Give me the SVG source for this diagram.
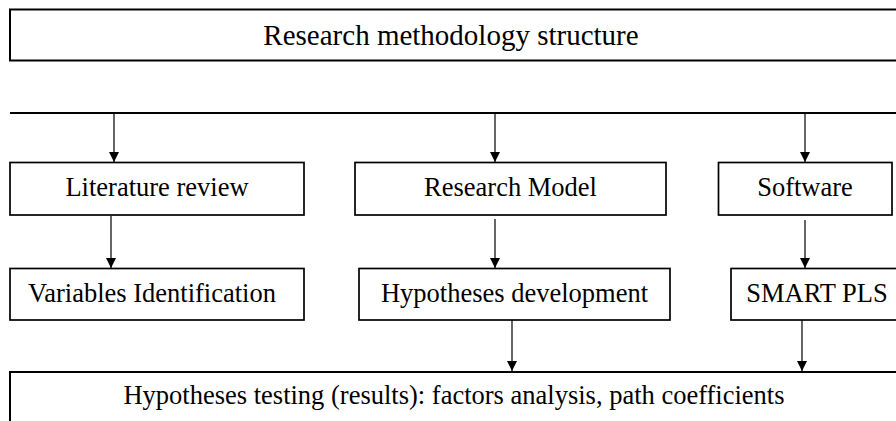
<svg xmlns="http://www.w3.org/2000/svg" width="896" height="421" viewBox="0 0 896 421">
<style>
.box{fill:#fff;stroke:#000;stroke-width:1.7}
.t{font-family:"Liberation Serif","Times New Roman",serif;font-size:26.5px;fill:#000;text-anchor:middle}
.title{font-size:29px}
.conn{stroke:#000;stroke-width:1.2;fill:none;marker-end:url(#ah)}
</style>
<defs>
<marker id="ah" markerUnits="userSpaceOnUse" markerWidth="12" markerHeight="12" refX="10" refY="5" orient="auto">
<path d="M0,0 L10,5 L0,10 Z" fill="#000"/>
</marker>
</defs>
<rect width="896" height="421" fill="#fff"/>
<g id="title">
<rect class="box" x="10" y="9.5" width="900" height="51" style="stroke-width:2"/>
<text class="t title" x="451" y="44.5">Research methodology structure</text>
</g>
<g id="connectors">
<line x1="10" y1="113" x2="896" y2="113" stroke="#000" stroke-width="1.8"/>
<line class="conn" x1="114" y1="113" x2="114" y2="162"/>
<line class="conn" x1="495" y1="113" x2="495" y2="162"/>
<line class="conn" x1="805" y1="113" x2="805" y2="162"/>
<line class="conn" x1="111" y1="216" x2="111" y2="268"/>
<line class="conn" x1="495" y1="219" x2="495" y2="268"/>
<line class="conn" x1="805" y1="220" x2="805" y2="268"/>
<line class="conn" x1="512" y1="320" x2="512" y2="371"/>
<line class="conn" x1="802" y1="320" x2="802" y2="371"/>
</g>
<g id="literature">
<rect class="box" x="10" y="162.5" width="294" height="52.5"/>
<text class="t" x="157" y="196">Literature review</text>
</g>
<g id="model">
<rect class="box" x="355" y="162.5" width="311" height="52.5"/>
<text class="t" x="510.5" y="196">Research Model</text>
</g>
<g id="software">
<rect class="box" x="718.5" y="162.5" width="173.5" height="52.5"/>
<text class="t" x="805" y="196">Software</text>
</g>
<g id="variables">
<rect class="box" x="10" y="268.5" width="294" height="51.5"/>
<text class="t" x="152" y="301.5">Variables Identification</text>
</g>
<g id="hypdev">
<rect class="box" x="359" y="268.5" width="311" height="51.5"/>
<text class="t" x="514.5" y="301.5">Hypotheses development</text>
</g>
<g id="smartpls">
<rect class="box" x="731" y="268.5" width="180" height="51.5"/>
<text class="t" x="817" y="301.5">SMART PLS</text>
</g>
<g id="testing">
<rect class="box" x="10" y="372" width="900" height="70" style="stroke-width:2"/>
<text class="t" x="454" y="404">Hypotheses testing (results): factors analysis, path coefficients</text>
</g>
</svg>
